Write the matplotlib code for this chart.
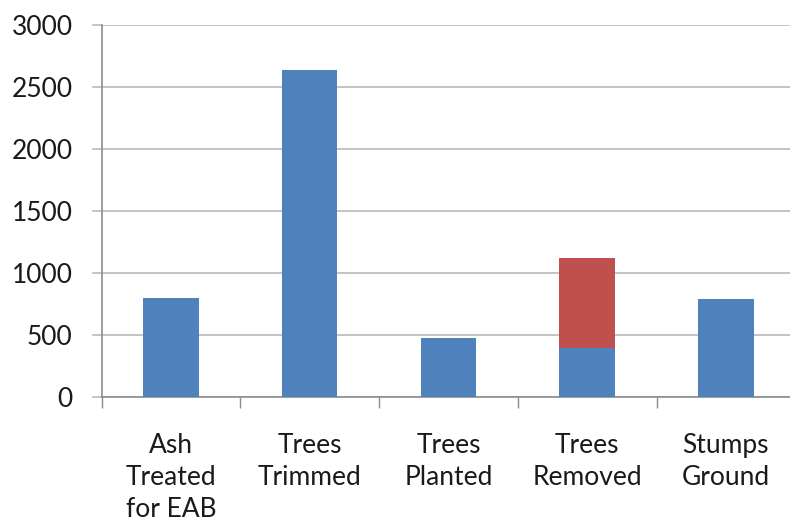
import matplotlib

matplotlib.use("Agg")
import matplotlib.pyplot as plt
from matplotlib.ticker import FixedLocator, MultipleLocator

# Urban forestry activity counts
categories = ["Ash\nTreated\nfor EAB", "Trees\nTrimmed", "Trees\nPlanted", "Trees\nRemoved", "Stumps\nGround"]
base_counts = [795, 2640, 476, 395, 790]
extra_counts = [0, 0, 0, 726, 0]

BLUE = "#4F81BD"
RED = "#C0504D"
GRID = "#BFBFBF"
AXIS = "#8C8C8C"

plt.rcParams["font.family"] = ["Lato", "DejaVu Sans"]

fig = plt.figure(figsize=(7.9, 5.25), dpi=100)
ax = fig.add_axes([101.7 / 790, 1 - 396.7 / 525, 693.5 / 790, (396.7 - 25) / 525])

x = list(range(len(categories)))
ax.bar(x, base_counts, width=0.4, color=BLUE, zorder=3)
ax.bar(x, extra_counts, width=0.4, bottom=base_counts, color=RED, zorder=3)

ax.set_xlim(-0.5, len(categories) - 0.5)
ax.set_ylim(0, 3000)
ax.yaxis.set_major_locator(MultipleLocator(500))
ax.grid(axis="y", color=GRID, linewidth=1.3, zorder=0)

ax.set_xticks(x)
ax.set_xticklabels(categories, fontsize=19, linespacing=1.36, color="#1a1a1a")
ax.xaxis.set_minor_locator(FixedLocator([i - 0.5 for i in range(len(categories) + 1)]))
ax.tick_params(axis="x", which="major", length=0, pad=26)
ax.tick_params(axis="x", which="minor", length=8, width=1, color=AXIS)
ax.tick_params(axis="y", length=7, width=1.3, color=GRID, labelsize=19, pad=14, labelcolor="#1a1a1a")

for side in ("top", "right"):
    ax.spines[side].set_visible(False)
for side in ("left", "bottom"):
    ax.spines[side].set_color(AXIS)
    ax.spines[side].set_linewidth(1.2)
ax.set_axisbelow(True)

fig.savefig("out.png", dpi=100)
